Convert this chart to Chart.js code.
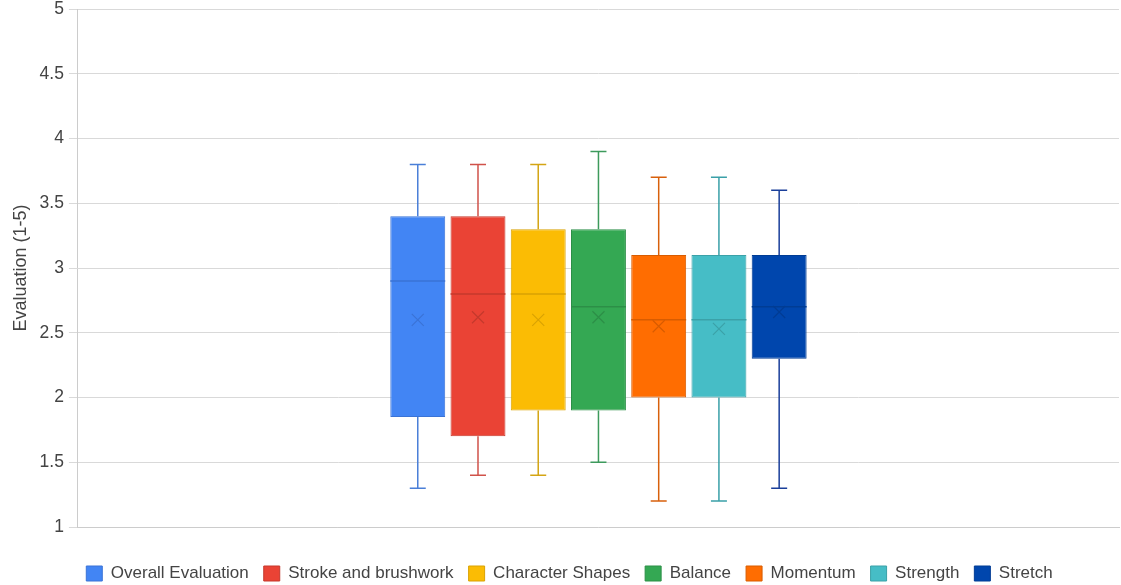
<!DOCTYPE html>
<html>
<head>
<meta charset="utf-8">
<script src="https://cdn.jsdelivr.net/npm/chart.js@4/dist/chart.umd.min.js"></script>
<style>
html,body{margin:0;padding:0;background:#fff;}
#wrap{width:1121px;height:585px;}
</style>
</head>
<body>
<div id="wrap"><canvas id="c" width="1121" height="585"></canvas></div>
<script>
const seriesNames = ["Overall Evaluation","Stroke and brushwork","Character Shapes","Balance","Momentum","Strength","Stretch"];
const mins    = [1.3, 1.4, 1.4, 1.5, 1.2, 1.2, 1.3];
const q1s     = [1.85,1.7, 1.9, 1.9, 2.0, 2.0, 2.3];
const medians = [2.9, 2.8, 2.8, 2.7, 2.6, 2.6, 2.7];
const q3s     = [3.4, 3.4, 3.3, 3.3, 3.1, 3.1, 3.1];
const maxs    = [3.8, 3.8, 3.8, 3.9, 3.7, 3.7, 3.6];
const means   = [2.6, 2.62,2.6, 2.62,2.55,2.53,2.66];
const yTicks  = [1,1.5,2,2.5,3,3.5,4,4.5,5];

const fills   = ["#4285F4","#EA4335","#FBBC04","#34A853","#FF6D01","#46BDC6","#0046AD"];
const borders = ["#3a73d6","#c5392d","#d9a203","#2c8f47","#d85c01","#3ba1a8","#003c94"];
const whisk   = ["#4a7fd8","#d0524a","#d4a514","#3d9a5c","#d8600c","#3aa0a8","#1a3f9a"];

const FONT = '"Liberation Sans", Arial, sans-serif';

const datasets = seriesNames.map((n,i)=>({
  label:n,
  data:[[q1s[i],q3s[i]]],
  backgroundColor:fills[i],
  borderColor:borders[i],
  borderWidth:1,
  borderSkipped:false,
  barPercentage:0.912,
  categoryPercentage:0.405
}));

const boxPlugin = {
  id:'boxExtras',
  afterLayout(chart){
    if(chart.legend){ chart.legend.left += 5; chart.legend.right += 5; }
  },
  afterDatasetsDraw(chart){
    const ctx = chart.ctx;
    const y = chart.scales.y;
    chart.data.datasets.forEach((ds,i)=>{
      const meta = chart.getDatasetMeta(i);
      if(meta.hidden) return;
      const bar = meta.data[0];
      const x = bar.x;
      const w = bar.width;
      const yMin = y.getPixelForValue(mins[i]);
      const yMax = y.getPixelForValue(maxs[i]);
      const yQ1 = y.getPixelForValue(q1s[i]);
      const yQ3 = y.getPixelForValue(q3s[i]);
      const yMed = y.getPixelForValue(medians[i]);
      const yMean = y.getPixelForValue(means[i]);
      ctx.save();
      ctx.strokeStyle = whisk[i];
      ctx.lineWidth = 1.5;
      ctx.beginPath();
      ctx.moveTo(x, yQ3); ctx.lineTo(x, yMax);
      ctx.moveTo(x, yQ1); ctx.lineTo(x, yMin);
      ctx.moveTo(x-8, yMax); ctx.lineTo(x+8, yMax);
      ctx.moveTo(x-8, yMin); ctx.lineTo(x+8, yMin);
      ctx.stroke();
      ctx.strokeStyle = borders[i];
      ctx.lineWidth = 1.5;
      ctx.beginPath();
      ctx.moveTo(x-w/2, yMed); ctx.lineTo(x+w/2, yMed);
      ctx.stroke();
      ctx.lineWidth = 1.2;
      ctx.beginPath();
      const s = 6;
      ctx.moveTo(x-s, yMean-s); ctx.lineTo(x+s, yMean+s);
      ctx.moveTo(x-s, yMean+s); ctx.lineTo(x+s, yMean-s);
      ctx.stroke();
      ctx.restore();
    });
  }
};

new Chart(document.getElementById('c'),{
  type:'bar',
  data:{labels:[''],datasets},
  options:{
    responsive:false,
    animation:false,
    layout:{padding:{top:9,right:2,left:10,bottom:-7}},
    plugins:{
      legend:{
        position:'bottom',
        labels:{
          boxWidth:16, boxHeight:15, padding:15,
          font:{family:FONT, size:17},
          color:'#444'
        }
      },
      tooltip:{enabled:false}
    },
    scales:{
      x:{
        grid:{display:false, drawTicks:false},
        border:{display:true,color:'#cccccc'},
        ticks:{display:false},
        afterFit(axis){ axis.height = 23; axis.paddingLeft = 0; axis.paddingRight = 0; }
      },
      y:{
        min:1,max:5,
        afterBuildTicks(axis){ axis.ticks = yTicks.map(v=>({value:v})); },
        afterFit(axis){ axis.paddingTop = 0; axis.paddingBottom = 0; },
        grid:{color:'#d9d9d9', drawTicks:true, tickLength:9},
        border:{display:true,color:'#cccccc'},
        ticks:{
          padding:5,
          color:'#444',
          font:{family:FONT, size:17.5},
          callback:v=>String(v)
        },
        title:{display:true,text:'Evaluation (1-5)',color:'#444',
          font:{family:FONT, size:18},padding:{top:0,bottom:3}}
      }
    }
  },
  plugins:[boxPlugin]
});
</script>
</body>
</html>
